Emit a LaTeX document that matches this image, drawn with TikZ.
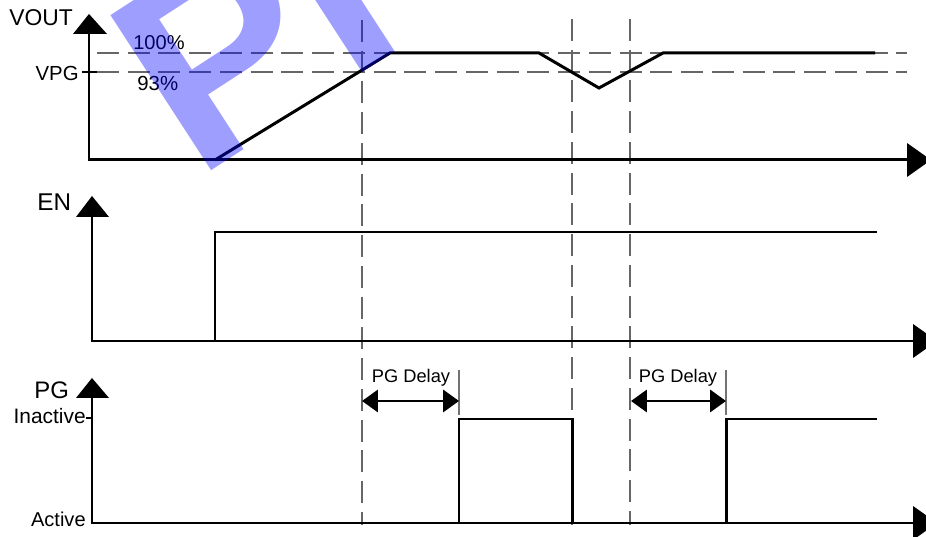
\documentclass[tikz,border=0pt]{standalone}
\usepackage{fontspec}
\setmainfont{Liberation Sans}
\usetikzlibrary{arrows.meta}
\begin{document}
\begin{tikzpicture}[x=0.02cm,y=0.02cm,
  sig/.style={line width=1.7pt, line join=miter},
  axisline/.style={line width=1.7pt, line join=miter},
  tip/.style={fill=black},
  guide/.style={line width=0.6pt, black!60, dash pattern=on 12.5pt off 5pt},
  marker/.style={line width=0.6pt, black!55},
  tick/.style={line width=1.1pt},
  lbl/.style={inner sep=0pt, text=black},
  delayarrow/.style={line width=1.7pt, {Triangle[length=9pt,width=12.5pt]}-{Triangle[length=9pt,width=12.5pt]}},
]
\useasboundingbox (0,0) rectangle (926,537);
\clip (0,0) rectangle (926,537);

% ---------- guides ----------
\draw[guide] (97,484) -- (907,484);
\draw[guide] (97,465) -- (907,465);
\draw[guide] (362,517) -- (362,12);
\draw[guide] (572,518) -- (572,12);
\draw[guide] (630,518) -- (630,12);

% ---------- VOUT panel ----------
\coordinate (vtop) at (89,505);
\coordinate (vorig) at (89,377);
\coordinate (vend) at (908,377);
\draw[axisline] (vtop) -- (vorig) -- (vend);
\fill[tip] (89,523) -- (73,503) -- (107,503) -- cycle;
\fill[tip] (907,394) -- (907,360) -- (931,377) -- cycle;
\draw[tick] (82,465) -- (97,465);
\draw[sig] (215,377) -- (390,484) -- (539,484) -- (599,449) -- (663,484) -- (875,484);
\node[lbl, anchor=base west, font=\fontsize{13}{13}\selectfont] (vout) at (9,511) {VOUT};
\node[lbl, anchor=base east, font=\fontsize{11.6}{12}\selectfont] (vpg) at (79,456) {VPG};
\node[lbl, anchor=base west, font=\fontsize{11.4}{12}\selectfont] (p100) at (133,487) {100\%};
\node[lbl, anchor=base west, font=\fontsize{11.6}{12}\selectfont] (p93) at (137,446.5) {93\%};

% ---------- EN panel ----------
\coordinate (etop) at (92,322);
\coordinate (eorig) at (92,196);
\coordinate (eend) at (914,196);
\draw[axisline] (etop) -- (eorig) -- (eend);
\fill[tip] (92,341) -- (76,320) -- (109,320) -- cycle;
\fill[tip] (913,213) -- (913,179) -- (937,196) -- cycle;
\draw[sig] (215,196) -- (215,305) -- (877,305);
\node[lbl, anchor=base west, font=\fontsize{13.8}{14}\selectfont] (en) at (37,326) {EN};

% ---------- PG panel ----------
\coordinate (ptop) at (92,141);
\coordinate (porig) at (92,14);
\coordinate (pend) at (914,14);
\draw[axisline] (ptop) -- (porig) -- (pend);
\fill[tip] (92,159) -- (76,139) -- (109,139) -- cycle;
\fill[tip] (913,31) -- (913,-3) -- (937,14) -- cycle;
\draw[tick] (86,119) -- (92,119);
\draw[sig] (459,14) -- (459,118) -- (572,118) -- (572,14);
\draw[sig] (726,14) -- (726,118) -- (877,118);
\node[lbl, anchor=base west, font=\fontsize{13.6}{14}\selectfont] (pg) at (34,138) {PG};
\node[lbl, anchor=base east, font=\fontsize{11.9}{12}\selectfont] (inact) at (86,113) {Inactive};
\node[lbl, anchor=base east, font=\fontsize{11.4}{12}\selectfont] (act) at (86,10) {Active};

% PG delay annotations
\draw[marker] (459,167) -- (459,122);
\draw[marker] (726,167) -- (726,122);
\coordinate (d1a) at (362,136);
\coordinate (d1b) at (459,136);
\coordinate (d2a) at (631,136);
\coordinate (d2b) at (726,136);
\draw[delayarrow] (d1a) -- (d1b);
\draw[delayarrow] (d2a) -- (d2b);
\node[lbl, anchor=base, font=\fontsize{10.4}{11}\selectfont] (pgd1) at (411,154) {PG Delay};
\node[lbl, anchor=base, font=\fontsize{10.4}{11}\selectfont] (pgd2) at (678,154) {PG Delay};

% ---------- watermark ----------
\node[inner sep=0pt, anchor=base west, rotate=33, text=blue, text opacity=0.38,
      font=\fontsize{153}{153}\selectfont\bfseries] (wm) at (196.6,356.3) {PI};
\end{tikzpicture}
\end{document}
